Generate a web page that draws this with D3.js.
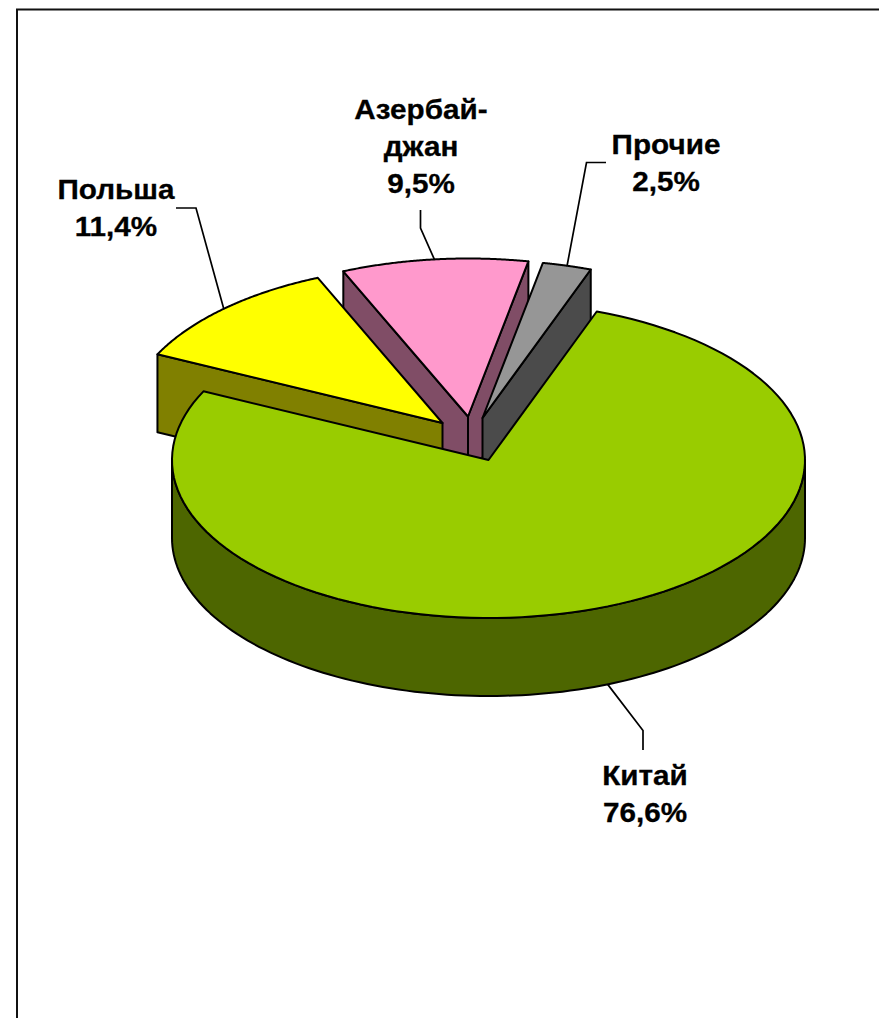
<!DOCTYPE html>
<html><head><meta charset="utf-8">
<script src="https://cdn.jsdelivr.net/npm/d3@7"></script>
<style>html,body{margin:0;padding:0;background:#fff}svg{display:block}</style>
</head><body><svg id="c" width="879" height="1018"></svg>
<script>
const categories = ["Китай", "Польша", "Азербайджан", "Прочие"];
const shares = [76.6, 11.4, 9.5, 2.5];
const shareLabels = ["76,6%", "11,4%", "9,5%", "2,5%"];
const labelLines = [["Китай"], ["Польша"], ["Азербай-", "джан"], ["Прочие"]];
const topColors = ["#99CC00", "#FFFF00", "#FF99CC", "#969696"];
const wallColors = ["#4D6600", "#808000", "#804D66", "#4B4B4B"];
const explodeX = [0, -46, -20.5, -6];
const explodeY = [0, -37, -43.5, -42];
const labelX = [645, 116, 421, 666];
const labelY = [785, 199, 119, 154];
const leaderKnee = [[643, 730.5, 643, 750], [196, 208, 176, 208], [420.5, 228, 420.5, 210], [586.5, 162.5, 606, 162.5]];
const paintOrder = [2, 3, 1, 0];

const W = 879, H = 1018, cx = 488.5, cy = 460, rx = 316.5, ry = 158, depth = 78;
const svg = d3.select("#c");
const sx = d3.scaleLinear().domain([-1, 1]).range([cx - rx, cx + rx]);
const sy = d3.scaleLinear().domain([-1, 1]).range([cy - ry, cy + ry]);

svg.append("path").attr("d", `M17,${H}V9.5H${W}`).attr("fill", "none").attr("stroke", "#111").attr("stroke-width", 2);

const pie = d3.pie().sort(null).startAngle(20 * Math.PI / 180).endAngle(380 * Math.PI / 180);
const arcs = pie(shares);
const line = d3.line();
const pt = (i, a, dy = 0) => [sx(Math.sin(a)) + explodeX[i], sy(-Math.cos(a)) + explodeY[i] + dy];
const apex = (i, dy = 0) => [sx(0) + explodeX[i], sy(0) + explodeY[i] + dy];
const sweep = (a0, a1) => d3.range(0, 121).map(k => a0 + (a1 - a0) * k / 120);

const st = { stroke: "#000", "stroke-width": 2, "stroke-linejoin": "round" };
function draw(d, fill) {
  const p = svg.append("path").attr("d", d).attr("fill", fill);
  Object.entries(st).forEach(([k, v]) => p.attr(k, v));
}

paintOrder.forEach(i => {
  const a = arcs[i];
  // Cut faces, only those turned towards the viewer
  if (-Math.sin(a.startAngle) > 0)
    draw(line([apex(i), pt(i, a.startAngle), pt(i, a.startAngle, depth), apex(i, depth)]) + "Z", wallColors[i]);
  if (Math.sin(a.endAngle) > 0)
    draw(line([apex(i), pt(i, a.endAngle), pt(i, a.endAngle, depth), apex(i, depth)]) + "Z", wallColors[i]);
  // Curved outer wall on the front half
  const lo = Math.max(a.startAngle, Math.PI / 2), hi = Math.min(a.endAngle, 3 * Math.PI / 2);
  if (hi > lo) {
    const s = sweep(lo, hi);
    draw(line(s.map(t => pt(i, t)).concat(s.slice().reverse().map(t => pt(i, t, depth)))) + "Z", wallColors[i]);
  }
  // Top face
  draw(line([apex(i)].concat(sweep(a.startAngle, a.endAngle).map(t => pt(i, t)))) + "Z", topColors[i]);
});

// Leader lines start at each slice's rim midpoint
arcs.forEach((a, i) => {
  const mid = (a.startAngle + a.endAngle) / 2;
  const k = leaderKnee[i];
  const start = pt(i, mid, Math.cos(mid) < 0 ? depth : 0);
  svg.append("path").attr("d", line([start, [k[0], k[1]], [k[2], k[3]]]))
    .attr("fill", "none").attr("stroke", "#000").attr("stroke-width", 1.7);
});

// Labels
categories.forEach((c, i) => {
  const lines = labelLines[i].concat([shareLabels[i]]);
  const t = svg.append("text").attr("text-anchor", "middle")
    .attr("transform", `translate(${labelX[i]},0) scale(1.06,1)`)
    .attr("font-family", "'Liberation Sans', Arial, sans-serif")
    .attr("font-weight", "bold").attr("font-size", 28).attr("fill", "#000")
    .attr("stroke", "#000").attr("stroke-width", 0.3);
  lines.forEach((l, j) => t.append("tspan").attr("x", 0).attr("y", labelY[i] + j * 37).text(l));
});
</script></body></html>
